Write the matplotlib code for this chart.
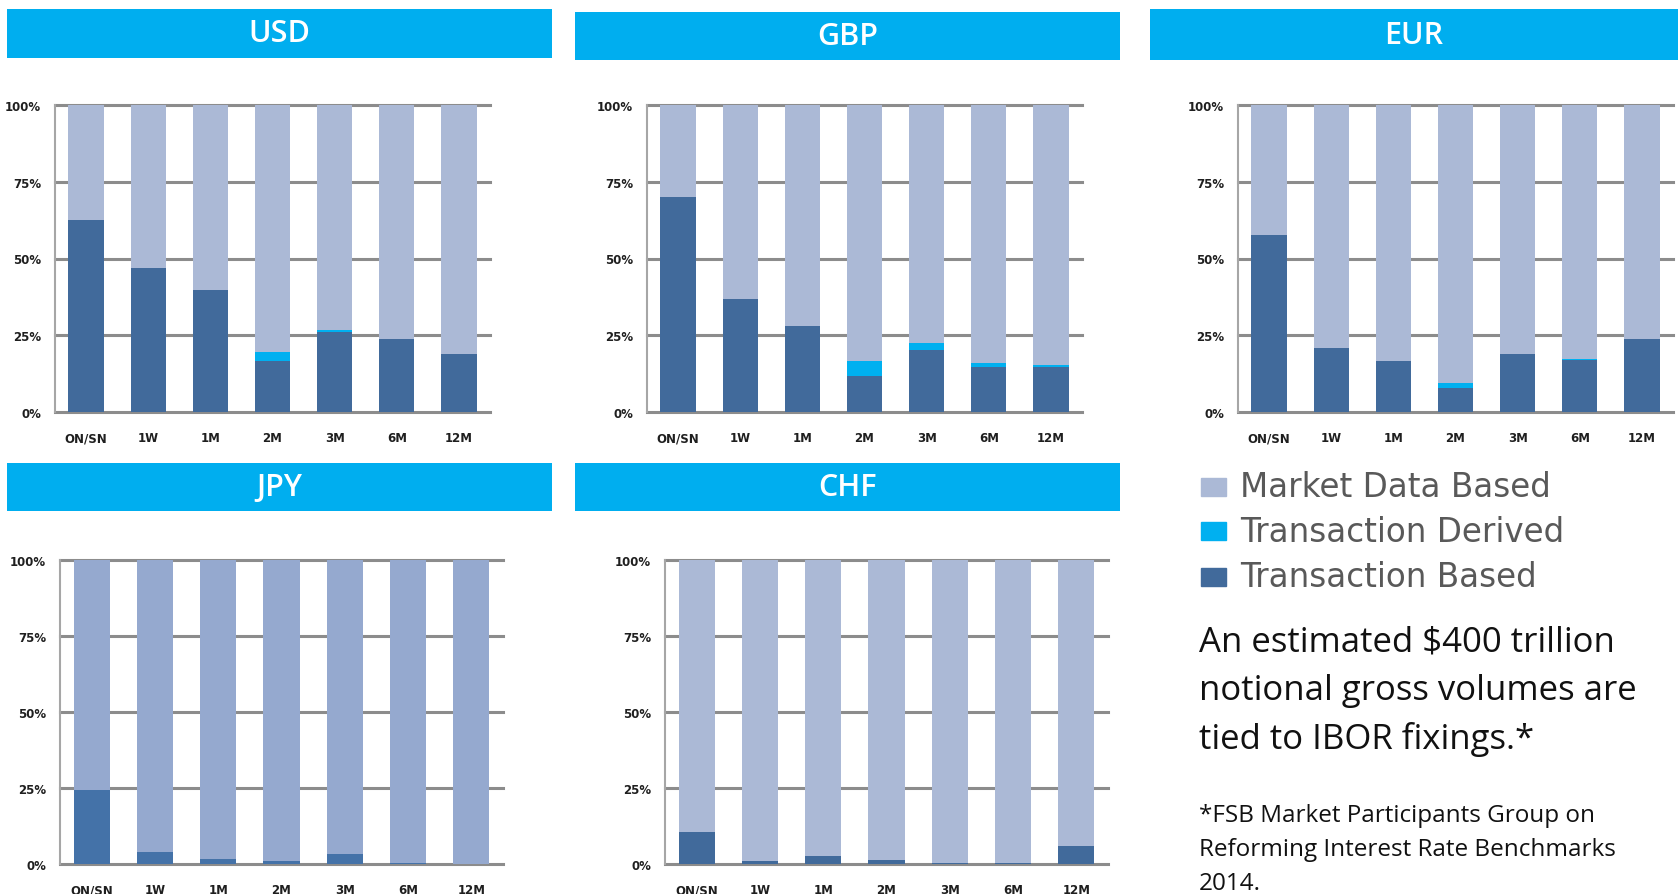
import matplotlib.pyplot as plt
from matplotlib.patches import Rectangle
import numpy as np

W, H = 1678, 895

tenors = ["ON/SN", "1W", "1M", "2M", "3M", "6M", "12M"]
ytick_vals = [0, 25, 50, 75, 100]
ytick_labels = ["0%", "25%", "50%", "75%", "100%"]

# transaction based / transaction derived (%), market data is the rest
usd_tb = [62.4, 47.0, 39.6, 16.7, 26.0, 23.9, 18.8]
usd_td = [0, 0, 0, 2.9, 0.7, 0, 0]
gbp_tb = [70.0, 36.7, 28.0, 11.8, 20.2, 14.5, 14.5]
gbp_td = [0, 0, 0, 4.9, 2.2, 1.3, 0.8]
eur_tb = [57.6, 21.0, 16.7, 7.7, 19.0, 16.9, 23.9]
eur_td = [0, 0, 0, 1.9, 0, 0.5, 0]
jpy_tb = [24.4, 3.8, 1.6, 1.0, 3.2, 0.3, 0]
jpy_td = [0, 0, 0, 0, 0, 0, 0]
chf_tb = [10.4, 1.0, 2.5, 1.4, 0.2, 0.2, 6.0]
chf_td = [0, 0, 0, 0, 0, 0, 0]

legend_labels = ["Market Data Based", "Transaction Derived", "Transaction Based"]

HEADER = "#00aeef"
MKT = "#abb9d6"
TD = "#00b0f0"
TB = "#416a9b"
GRID = "#8c8c8c"


def fig_rect(x0, y0, x1, y1):
    # pixel box (from top-left) -> figure fraction
    return [x0 / W, 1 - y1 / H, (x1 - x0) / W, (y1 - y0) / H]


fig = plt.figure(figsize=(W / 100, H / 100), dpi=100)

panels = [
    ("USD", usd_tb, usd_td, (7, 10, 552, 59), (55, 106, 490, 413), MKT, TB),
    ("GBP", gbp_tb, gbp_td, (575, 13, 1120, 61), (647, 106, 1082, 413), MKT, TB),
    ("EUR", eur_tb, eur_td, (1150, 10, 1678, 61), (1238, 106, 1673, 413), MKT, TB),
    ("JPY", jpy_tb, jpy_td, (7, 464, 552, 512), (60, 561, 503, 865), "#95a9cf", "#4472a8"),
    ("CHF", chf_tb, chf_td, (575, 464, 1120, 512), (665, 561, 1108, 865), MKT, TB),
]

for name, tb, td, hbox, abox, mcol, tcol in panels:
    # header bar
    hx = fig.add_axes(fig_rect(*hbox))
    hx.set_facecolor(HEADER)
    hx.set_xticks([])
    hx.set_yticks([])
    for s in hx.spines.values():
        s.set_visible(False)
    hx.text(0.5, 0.5, name, color="white", fontsize=22, family="Open Sans",
            fontweight="semibold", ha="center", va="center", transform=hx.transAxes)

    ax = fig.add_axes(fig_rect(*abox))
    x = np.arange(len(tenors))
    tb = np.array(tb)
    td = np.array(td)
    mk = 100 - tb - td
    ax.bar(x, tb, width=0.57, color=tcol, zorder=2)
    ax.bar(x, td, width=0.57, bottom=tb, color=TD, zorder=2)
    ax.bar(x, mk, width=0.57, bottom=tb + td, color=mcol, zorder=2)
    for v in ytick_vals:
        ax.axhline(v, color=GRID, lw=2.2, zorder=1, clip_on=False)
    ax.set_xlim(-0.5, len(tenors) - 0.5)
    ax.set_ylim(0, 100)
    for s in ["top", "right", "bottom"]:
        ax.spines[s].set_visible(False)
    ax.spines["left"].set_color("#a6a6a6")
    ax.spines["left"].set_linewidth(1.5)
    ax.set_yticks(ytick_vals)
    ax.set_yticklabels(ytick_labels)
    ax.set_xticks(x)
    ax.set_xticklabels(tenors)
    ax.tick_params(axis="y", length=0, pad=10, labelsize=8.5, labelcolor="#1f1f1f")
    ax.tick_params(axis="x", length=0, pad=14, labelsize=8.5, labelcolor="#1f1f1f")
    for lab in ax.get_xticklabels() + ax.get_yticklabels():
        lab.set_fontweight("bold")

# legend
leg_colors = [MKT, TD, TB]
leg_y = [488, 532, 578]
for lab, col, yy in zip(legend_labels, leg_colors, leg_y):
    fig.patches.append(Rectangle((1201 / W, 1 - (yy + 9) / H), 25 / W, 18 / H,
                                 color=col, transform=fig.transFigure))
    fig.text(1240 / W, 1 - yy / H, lab, fontsize=23.5, color="#595959",
             family="DejaVu Sans", va="center", ha="left")

main_lines = ["An estimated $400 trillion", "notional gross volumes are",
              "tied to IBOR fixings.*"]
for i, t in enumerate(main_lines):
    fig.text(1199 / W, 1 - (642 + i * 49) / H, t, fontsize=25, color="#111111",
             family="Open Sans", va="center", ha="left")

foot_lines = ["*FSB Market Participants Group on",
              "Reforming Interest Rate Benchmarks", "2014."]
for i, t in enumerate(foot_lines):
    fig.text(1199 / W, 1 - (816 + i * 34) / H, t, fontsize=17.5, color="#111111",
             family="Open Sans", va="center", ha="left")

fig.savefig("out.png", dpi=100)
